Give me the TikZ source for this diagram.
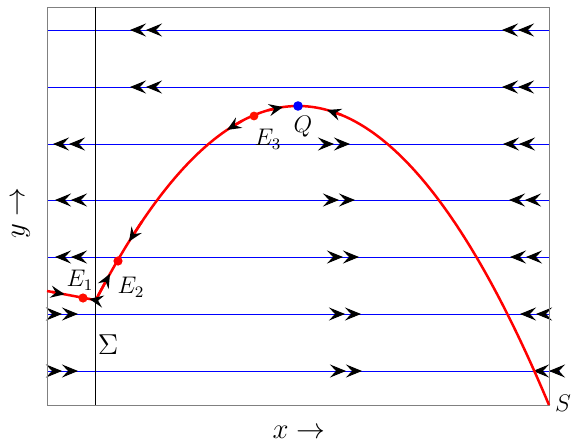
\documentclass[tikz,border=0pt]{standalone}
\usetikzlibrary{arrows.meta,calc}
\tikzset{
  flowline/.style={blue, line width=0.5pt},
  curve/.style={red, line width=1.25pt},
  dbl/.tip={Stealth[length=8pt,width=6.5pt,inset=3pt,black] Stealth[length=8pt,width=6.5pt,inset=3pt,black]},
  ctip/.tip={Stealth[length=7pt,width=6pt,inset=2.5pt,black]},
  dot/.style={circle, inner sep=0pt, minimum size=4.6pt},
  lab/.style={font=\large},
  declare function={fpar(\t)=106+0.4746*((\t-298)/10)*((\t-298)/10);},
}
\begin{document}
\begin{tikzpicture}[x=0.5pt,y=-0.5pt]
    \useasboundingbox (0,0) rectangle (574,445);
    % flow lines
    \foreach \yy in {30,87,144,200,257,314,371}
        \draw[flowline] (47,\yy) -- (549,\yy);
    % arrows on the flow lines (tail/tip/height)
    \foreach \xa/\xb/\yy in {157/130/30, 528/502/30,
                             157/130/87, 528/502/87,
                             80/53/144, 323/350/144, 531/503/144,
                             81/55/200, 328/355/200, 535/509/200,
                             81/55/257, 332/359/257, 536/510/257,
                             51/78/314, 334/361/314, 547/520/314,
                             51/78/371, 335/362/371, 560/533/371}
        \draw[flowline, -{dbl}] (\xa,\yy) -- (\xb,\yy);
    % frame and the line Sigma
    \draw[gray, line width=0.5pt] (47,7) rectangle (549,405);
    \draw[black, line width=0.45pt] (95,7) -- (95,405);
    % the red curve
    \coordinate (L) at (47,291);
    \coordinate (C) at (95,300);
    \draw[curve] (L) -- (C);
    \draw[curve] plot[domain=95:549, samples=150] (\x, {fpar(\x)});
    % arrows on the curve
    \draw[curve, -{ctip}] ($(L)!0.1!(C)$) -- ($(L)!0.37!(C)$);
    \draw[curve, -{ctip}] (C) -- ($(C)!0.12!(L)$);
    \draw[curve, -{ctip}] (98,{fpar(98)}) -- (110,{fpar(110)});
    \draw[curve, -{ctip}] (142,{fpar(142)}) -- (129,{fpar(129)});
    \draw[curve, -{ctip}] (242,{fpar(242)}) -- (227,{fpar(227)});
    \draw[curve, -{ctip}] (268,{fpar(268)}) -- (283,{fpar(283)});
    \draw[curve, -{ctip}] (342,{fpar(342)}) -- (327,{fpar(327)});
    % equilibria
    \node[dot, fill=red!90!orange] (E1) at (83,298) {};
    \node[dot, fill=red] (E2) at (118,261) {};
    \node[dot, fill=red!85!orange, minimum size=4.4pt] (E3) at (254,116) {};
    \node[dot, fill=blue, minimum size=4.8pt] (Q) at (298,106) {};
    % labels
    \node[lab] (E1lab) at (80,280) {$E_1$};
    \node[lab] (E2lab) at (131,287) {$E_2$};
    \node[lab] (E3lab) at (268,139) {$E_3$};
    \node[lab] (Qlab) at (303,127) {$Q$};
    \node[font=\Large] (Siglab) at (108,345) {$\Sigma$};
    \node[lab] (Slab) at (563,403) {$S$};
    \node[font=\Large] (xlab) at (299,432) {$x\rightarrow$};
    \node[font=\Large, rotate=90, inner sep=0pt] (ylab) at (21,213) {$y\rightarrow$};
\end{tikzpicture}
\end{document}
